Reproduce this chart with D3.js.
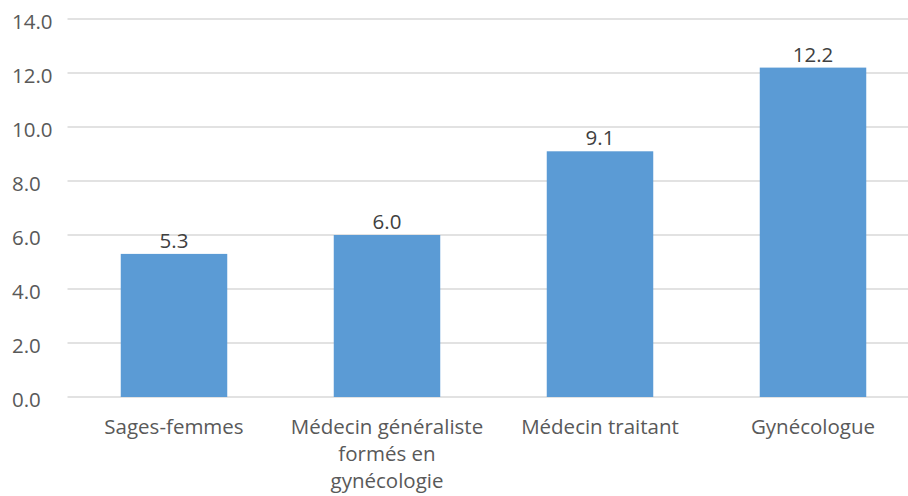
<!DOCTYPE html>
<html>
<head>
<meta charset="utf-8">
<script src="https://cdn.jsdelivr.net/npm/d3@7"></script>
<style>
  body { margin: 0; background: #fff; }
  svg { display: block; font-family: "Open Sans", sans-serif; }
</style>
</head>
<body>
<svg width="908" height="496"></svg>
<script>
// chart data
var categories = ['Sages-femmes', 'Médecin généraliste formés en gynécologie', 'Médecin traitant', 'Gynécologue'];
// wrapped label lines, as shown under the bars
var categoryLines = [
    ['Sages-femmes'],
    ['Médecin généraliste', 'formés en', 'gynécologie'],
    ['Médecin traitant'],
    ['Gynécologue']
];
var values = [5.3, 6.0, 9.1, 12.2];
var yTicks = [0, 2, 4, 6, 8, 10, 12, 14];

var svg = d3.select('svg');
var svgWidth = +svg.attr('width');

// plot area (right side runs past the picture edge, like the original crop)
var plot = { l: 67.5, r: 919.5, t: 19, b: 397 };

var xScale = d3.scaleBand()
    .domain(categories)
    .range([plot.l, plot.r])
    .paddingInner(0.5)
    .paddingOuter(0.25);

var yScale = d3.scaleLinear()
    .domain([0, 14])
    .range([plot.b, plot.t]);

// gridlines
svg.append('g')
    .attr('class', 'grid')
    .selectAll('line')
    .data(yTicks)
    .enter()
    .append('line')
    .attr('x1', plot.l)
    .attr('x2', svgWidth)
    .attr('y1', d => yScale(d))
    .attr('y2', d => yScale(d))
    .attr('stroke', '#d9d9d9')
    .attr('stroke-width', 1.5);

// y tick labels (left aligned)
svg.append('g')
    .attr('class', 'y labels')
    .selectAll('text')
    .data(yTicks)
    .enter()
    .append('text')
    .attr('x', 12)
    .attr('y', d => yScale(d) + 10)
    .text(d => d3.format('.1f')(d))
    .style('font-size', '20.5px')
    .style('fill', '#595959');

// bars
svg.append('g')
    .attr('class', 'bars')
    .selectAll('rect')
    .data(values)
    .enter()
    .append('rect')
    .attr('x', (d, i) => xScale(categories[i]))
    .attr('y', d => yScale(d))
    .attr('width', xScale.bandwidth())
    .attr('height', d => yScale(0) - yScale(d))
    .attr('fill', '#5b9bd5');

// value labels
svg.append('g')
    .attr('class', 'values')
    .selectAll('text')
    .data(values)
    .enter()
    .append('text')
    .attr('x', (d, i) => xScale(categories[i]) + xScale.bandwidth() / 2)
    .attr('y', d => yScale(d) - 6)
    .attr('text-anchor', 'middle')
    .text(d => d3.format('.1f')(d))
    .style('font-size', '20.5px')
    .style('fill', '#404040');

// category labels
var catG = svg.append('g')
    .attr('class', 'x labels')
    .selectAll('text')
    .data(categories)
    .enter()
    .append('text')
    .attr('x', d => xScale(d) + xScale.bandwidth() / 2)
    .attr('y', plot.b + 37)
    .attr('text-anchor', 'middle')
    .style('font-size', '20.5px')
    .style('fill', '#595959');

catG.selectAll('tspan')
    .data((d, i) => categoryLines[i])
    .enter()
    .append('tspan')
    .attr('x', function() { return d3.select(this.parentNode).attr('x'); })
    .attr('dy', (d, i) => i === 0 ? 0 : 27)
    .text(d => d);
</script>
</body>
</html>
